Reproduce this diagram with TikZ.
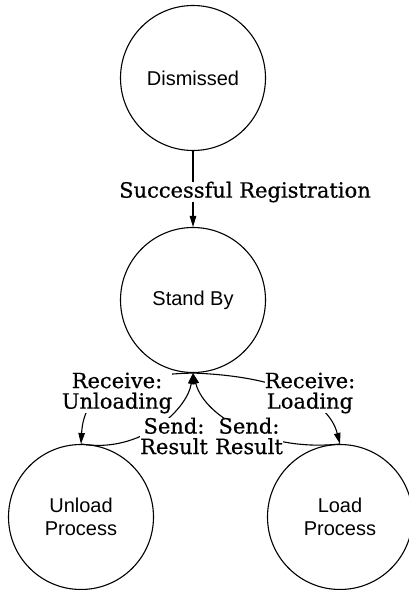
\documentclass[tikz,border=0pt]{standalone}
\usepackage{fontspec}
\setmainfont{DejaVu Serif}[FakeBold=0.6]
\newfontfamily\statefont{Liberation Sans}
\usetikzlibrary{arrows.meta}
\begin{document}
\begin{tikzpicture}[x=1pt,y=1pt,
  state/.style={circle,draw,line width=1.1pt,minimum size=145pt,inner sep=0pt,
    align=center,font=\statefont\fontsize{20}{23}\selectfont},
  trans/.style={line width=1.1pt,-{Triangle[length=11pt,width=6.5pt]}},
  lbl/.style={fill=white,inner sep=0pt,align=center,
    font=\fontsize{21}{20.5}\selectfont}]
\useasboundingbox (0,0) rectangle (409,590);

% states
\node[state] (dis) at (193,512) {Dismissed};
\node[state] (sb)  at (193,290) {Stand By};
\node[state] (ul)  at (81,73)   {Unload\\Process};
\node[state] (lp)  at (340,73)  {Load\\Process};

% transitions
\draw[trans] (dis.south) -- (sb.north);
\draw[trans] (sb.south) .. controls (120,215) and (84,200) .. (ul.north);
\draw[trans] (sb.south) .. controls (275,214) and (328,192) .. (lp.north);
\draw[trans] (ul.north) .. controls (140,136) and (187,180) .. (sb.south);
\draw[trans] (lp.north) .. controls (268,138) and (205,172) .. (sb.south);

% transition labels
\node[lbl] (reg) at (245,398) {Successful Registration};
\node[lbl] (rcvU) at (117,197) {Receive:\\Unloading};
\node[lbl] (rcvL) at (310,197) {Receive:\\Loading};
\node[lbl] (sndU) at (174,154) {Send:\\Result};
\node[lbl] (sndL) at (249,154) {Send:\\Result};
\end{tikzpicture}
\end{document}
